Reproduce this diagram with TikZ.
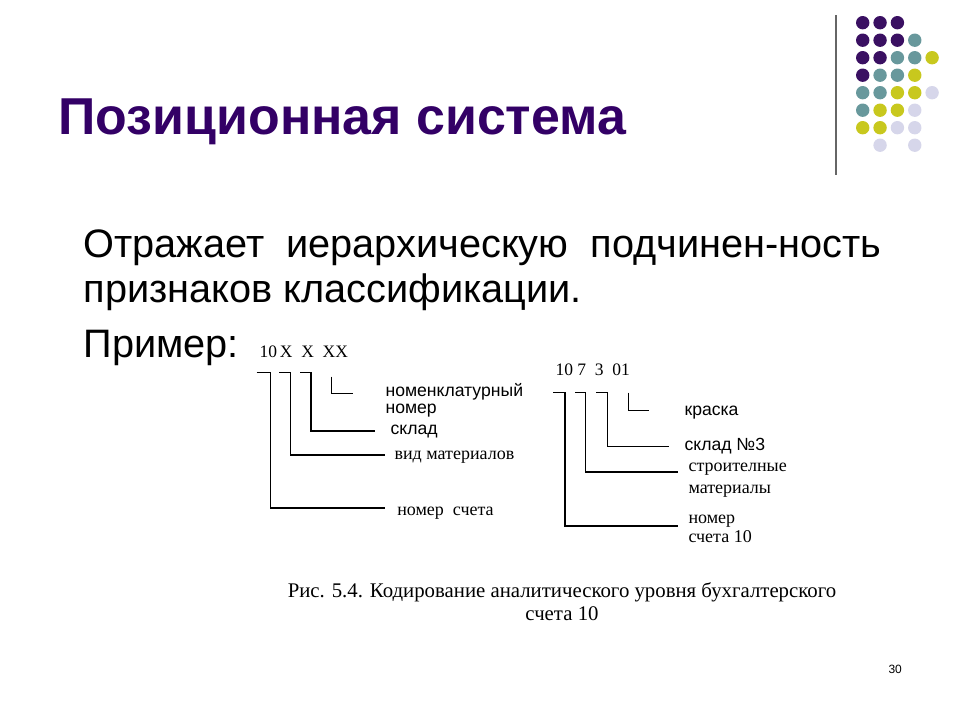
\documentclass[tikz,border=0pt]{standalone}
\usepackage{fontspec}
\setmainfont{Liberation Serif}
\newfontfamily\arial{Liberation Sans}
\definecolor{titlePurple}{RGB}{51,0,102}
\definecolor{dotP}{RGB}{58,16,98}
\definecolor{dotT}{RGB}{104,152,156}
\definecolor{dotY}{RGB}{200,200,30}
\definecolor{dotL}{RGB}{214,214,234}
\tikzset{
	lbl/.style={anchor=base west,inner sep=0pt},
	sanslbl/.style={lbl,font=\arial\fontsize{17.6}{20}\selectfont},
	seriflbl/.style={lbl,font=\fontsize{18}{20}\selectfont},
	code/.style={lbl,font=\fontsize{17.5}{20}\selectfont},
	capt/.style={anchor=base,inner sep=0pt,font=\fontsize{20.8}{24}\selectfont}
}
\begin{document}
\begin{tikzpicture}[x=1pt,y=-1pt,line width=1.1pt]
			\useasboundingbox (0,0) rectangle (960,720);
			% decoration in the corner
			\draw[line width=2pt,gray!80!black] (835.7,15)--(835.7,175);
			\foreach \r/\lst in {0/{dotP,dotP,dotP,none,none},1/{dotP,dotP,dotP,dotT,none},2/{dotP,dotP,dotT,dotT,dotY},3/{dotP,dotT,dotT,dotY,none},4/{dotT,dotT,dotY,dotY,dotL},5/{dotT,dotY,dotY,dotL,none},6/{dotY,dotY,dotL,dotL,none},7/{none,dotL,none,dotL,none}}
				\foreach \c [count=\k from 0] in \lst
					\fill[fill=\c] (862.7+17.35*\k,22.7+17.5*\r) circle(6.7);
			\node[lbl,titlePurple,font=\arial\bfseries\fontsize{51.9}{58}\selectfont] (title) at (58,134) {Позиционная система};
			\node[lbl,font=\arial\fontsize{39.7}{44}\selectfont] (txt1) at (83,257) {Отражает\ \ иерархическую\ \ подчинен-ность};
			\node[lbl,font=\arial\fontsize{39.7}{44}\selectfont] (txt2) at (83,302) {признаков классификации.};
			\node[lbl,font=\arial\fontsize{39.7}{44}\selectfont] (txt3) at (83,357) {Пример:};
			% left scheme
			\node[code] (codeA) at (259,357) {10\,X\ \ X\ \ XX};
			\node[sanslbl] (nomenkl) at (385,396.7) {номенклатурный};
			\node[sanslbl] (nomenkl2) at (385,413) {номер};
			\node[sanslbl] (sklad) at (390,434) {склад};
			\node[seriflbl] (vid) at (394,459) {вид материалов};
			\node[seriflbl] (schet) at (396.7,515) {номер\ \ счета};
			\coordinate (a1) at (256.7,372.7);
			\coordinate (a2) at (279,372.7);
			\coordinate (a3) at (300,372.7);
			\coordinate (a4) at (331.7,376.7);
			\coordinate (e1) at (385,508);
			\coordinate (e2) at (385,455);
			\coordinate (e3) at (375,431);
			\coordinate (e4) at (353,393.3);
			\draw (a1)--++(14,0)|-(e1);
			\draw (a2)--++(11.7,0)|-(e2);
			\draw (a3)--++(11,0)|-(e3);
			\draw (a4)|-(e4);
			% right scheme
			\node[code] (codeB) at (555,375) {10 7\ \ 3\ \ 01};
			\node[sanslbl] (kraska) at (684,415) {краска};
			\node[sanslbl] (sklad3) at (684,450) {склад №3};
			\node[seriflbl] (stroit) at (688,471.7) {строителные};
			\node[seriflbl] (stroit2) at (688,493) {материалы};
			\node[seriflbl] (schet10) at (688,523) {номер};
			\node[seriflbl] (schet10b) at (688,542) {счета 10};
			\coordinate (b1) at (553.3,392.7);
			\coordinate (b2) at (575,392.7);
			\coordinate (b3) at (596,392.7);
			\coordinate (b4) at (628.3,392.7);
			\coordinate (f1) at (678,526);
			\coordinate (f2) at (678,472);
			\coordinate (f3) at (669,446.7);
			\coordinate (f4) at (649.3,410.7);
			\draw (b1)--++(11.7,0)|-(f1);
			\draw (b2)--++(10.7,0)|-(f2);
			\draw (b3)--++(11.7,0)|-(f3);
			\draw (b4)|-(f4);
			% caption and page number
			\node[capt] (caption) at (562,597) {Рис. 5.4. Кодирование аналитического уровня бухгалтерского};
			\node[capt] (caption2) at (562,620.7) {счета 10};
			\node[lbl,font=\arial\fontsize{12}{14}\selectfont] (page) at (888,673) {30};
\end{tikzpicture}
\end{document}
